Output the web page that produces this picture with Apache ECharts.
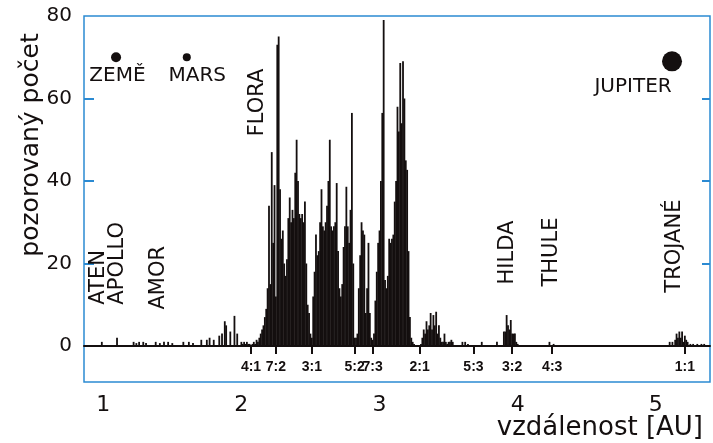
<!DOCTYPE html>
<html>
<head>
<meta charset="utf-8">
<script src="https://cdn.jsdelivr.net/npm/echarts@6/dist/echarts.min.js"></script>
<style>
html,body{margin:0;padding:0;background:#fff;}
#c{width:713px;height:443px;}
</style>
</head>
<body>
<div id="c"></div>
<script>
// ---- data ----
// bin centres (AU) and observed counts
const distAU = [
  0.99, 1.10, 1.22, 1.24, 1.26, 1.29, 1.31, 1.38, 1.41, 1.44, 1.47, 1.50, 1.58, 1.62, 1.65,
  1.71, 1.75, 1.77, 1.80, 1.84, 1.86, 1.88, 1.89, 1.92, 1.95, 1.97,
  2.00, 2.01, 2.02, 2.03, 2.04, 2.05, 2.06, 2.07, 2.08, 2.09,
  2.10, 2.11, 2.12, 2.13, 2.14, 2.15, 2.16, 2.17, 2.18, 2.19,
  2.20, 2.21, 2.22, 2.23, 2.24, 2.25, 2.26, 2.27, 2.28, 2.29,
  2.30, 2.31, 2.32, 2.33, 2.34, 2.35, 2.36, 2.37, 2.38, 2.39,
  2.40, 2.41, 2.42, 2.43, 2.44, 2.45, 2.46, 2.47, 2.48, 2.49,
  2.50, 2.51, 2.52, 2.53, 2.54, 2.55, 2.56, 2.57, 2.58, 2.59,
  2.60, 2.61, 2.62, 2.63, 2.64, 2.65, 2.66, 2.67, 2.68, 2.69,
  2.70, 2.71, 2.72, 2.73, 2.74, 2.75, 2.76, 2.77, 2.78, 2.79,
  2.80, 2.81, 2.82, 2.83, 2.84, 2.85, 2.86, 2.87, 2.88, 2.89,
  2.90, 2.91, 2.92, 2.93, 2.94, 2.95, 2.96, 2.97, 2.98, 2.99,
  3.00, 3.01, 3.02, 3.03, 3.04, 3.05, 3.06, 3.07, 3.08, 3.09,
  3.10, 3.11, 3.12, 3.13, 3.14, 3.15, 3.16, 3.17, 3.18, 3.19,
  3.20, 3.21, 3.22, 3.23, 3.24, 3.25, 3.26, 3.27, 3.28, 3.29,
  3.30, 3.31, 3.32, 3.33, 3.34, 3.35, 3.36, 3.37, 3.38, 3.39,
  3.40, 3.41, 3.42, 3.43, 3.44, 3.45, 3.46, 3.47, 3.48, 3.49,
  3.50, 3.51, 3.52, 3.53,
  3.60, 3.62, 3.64, 3.74, 3.85,
  3.90, 3.91, 3.92, 3.93, 3.94, 3.95, 3.96, 3.97, 3.98, 3.99, 4.00,
  4.23, 4.26,
  5.10, 5.12, 5.14, 5.15, 5.16, 5.17, 5.18, 5.19, 5.20, 5.21, 5.22, 5.23, 5.25, 5.27, 5.30, 5.33, 5.35
];
const counts = [
  1, 2, 1, 0.7, 1, 1, 0.7, 1, 0.7, 1, 1, 0.7, 1, 1, 0.7,
  1.5, 1.5, 2, 1.5, 2.5, 3, 6, 5, 3.5, 7.3, 3,
  1, 0.5, 1, 0.5, 1, 0.5, 0.5, 0, 0.5, 1,
  0.5, 1.5, 1, 2, 3, 4, 5, 7, 9, 14,
  34, 15, 47, 25, 39, 12, 73, 75, 38, 26,
  28, 20, 17, 21, 31, 36, 30, 33, 31, 42,
  50, 40, 32, 31, 32, 30, 35, 20, 10, 8,
  3, 2, 12, 18, 27, 22, 23, 30, 38, 29,
  28, 30, 34, 40, 50, 29, 28, 29, 30, 39.5,
  23, 14, 12, 15, 24, 29, 38.6, 29, 25, 33,
  56.5, 20, 2, 2, 3, 14, 22, 30, 28, 27,
  8, 14, 25, 8, 2, 1.5, 3, 11, 18, 25,
  28, 40, 56.5, 79, 16, 14, 17, 26, 25, 26,
  27, 35, 40, 58, 52, 68.6, 54, 69, 60, 45,
  42.7, 23, 7, 2, 1, 0.5, 0, 0, 0, 0,
  0.5, 2, 4, 3, 6, 4, 5, 8, 4, 7.5,
  5, 8.3, 3, 5, 2, 1, 1, 3, 1, 0.5,
  1, 1, 1.5, 1,
  1, 1, 0.5, 1, 1,
  3.5, 3.5, 7.5, 5, 4, 6.3, 3, 3, 3, 1, 0.5,
  1, 0.5,
  1, 1, 1.5, 3, 2, 3.5, 2, 3.5, 1, 2.5, 1.5, 1, 0.5, 0.5, 0.5, 0.5, 0.5
];

// axis tick labels
const distTicks = [1, 2, 3, 4, 5];
const countTicks = [0, 20, 40, 60, 80];
const countInnerTicks = [20, 40, 60];

// mean-motion resonances with Jupiter
const resonanceLabels = ['4:1', '7:2', '3:1', '5:2', '7:3', '2:1', '5:3', '3:2', '4:3', '1:1'];
const resonanceAU = [2.07, 2.25, 2.51, 2.82, 2.95, 3.29, 3.68, 3.96, 4.25, 5.21];
const resonanceLabelY = -5.1;

// planets
const planetNames = ['ZEMĚ', 'MARS', 'JUPITER'];
const planetAU = [1.093, 1.605, 5.117];
const planetY = [70, 70, 69];
const planetLabelAU = [1.103, 1.681, 4.835];
const planetLabelY = [65.6, 65.6, 62.8];

// asteroid groups (label anchored at its lower end)
const groupNames = ['ATEN', 'APOLLO', 'AMOR', 'FLORA', 'HILDA', 'THULE', 'TROJANÉ'];
const groupAU = [0.973, 1.111, 1.407, 2.122, 3.932, 4.246, 5.142];
const groupY = [9.9, 9.9, 8.7, 50.7, 14.8, 14.3, 12.8];

// ---- chart ----
const BLUE = '#2b8ad2';
const INK = '#140f0f';
const FONT = '"DejaVu Sans", sans-serif';
const X_MIN = 0.861, X_MAX = 5.392, Y_MIN = -8.73, Y_MAX = 80;
const planetSizes = [10, 8, 20];

const chart = echarts.init(document.getElementById('c'));

const textSeries = (name, names, xs, ys, label) => ({
  name: name, type: 'scatter', xAxisIndex: 0, yAxisIndex: 0,
  data: xs.map((a, i) => ({ value: [a, ys[i]], name: names[i] })),
  symbolSize: 1, itemStyle: { color: 'rgba(0,0,0,0)', opacity: 1 },
  label: Object.assign({ show: true, formatter: (p) => p.name, color: INK, fontFamily: FONT, opacity: 1 }, label),
  labelLayout: { hideOverlap: false },
  emphasis: { disabled: true }, silent: true, z: 5
});

chart.setOption({
  animation: false,
  grid: {
    left: 84, right: 3, top: 16, bottom: 61,
    show: true, borderColor: BLUE, borderWidth: 1.5, backgroundColor: 'transparent'
  },
  xAxis: [
    {
      type: 'value', min: X_MIN, max: X_MAX, position: 'bottom',
      axisLine: { show: false }, axisTick: { show: false }, splitLine: { show: false },
      axisLabel: {
        customValues: distTicks, formatter: (v) => String(v),
        fontSize: 22, color: INK, fontFamily: FONT, margin: 12
      }
    },
    {
      type: 'value', min: X_MIN, max: X_MAX, position: 'bottom',
      axisLine: { show: true, onZero: true, onZeroAxisIndex: 0, lineStyle: { color: INK, width: 2 } },
      axisTick: { show: true, customValues: resonanceAU, length: 8, lineStyle: { color: INK, width: 2 } },
      axisLabel: { show: false },
      splitLine: { show: false }
    }
  ],
  yAxis: [
    {
      type: 'value', min: Y_MIN, max: Y_MAX, position: 'left',
      axisLine: { show: false },
      axisTick: { show: true, inside: true, length: 10, customValues: countInnerTicks, lineStyle: { color: BLUE, width: 2 } },
      axisLabel: { customValues: countTicks, fontSize: 20, color: INK, fontFamily: FONT, margin: 12 },
      splitLine: { show: false }
    },
    {
      type: 'value', min: Y_MIN, max: Y_MAX, position: 'right',
      axisLine: { show: false },
      axisTick: { show: true, inside: true, length: 8, customValues: countInnerTicks, lineStyle: { color: BLUE, width: 2 } },
      axisLabel: { show: false },
      splitLine: { show: false }
    }
  ],
  series: [
    {
      name: 'pozorovaný počet', type: 'bar', xAxisIndex: 0, yAxisIndex: 0,
      data: distAU.map((a, i) => [a, counts[i]]),
      barWidth: 1.8, itemStyle: { color: INK }, z: 3, silent: true
    },
    {
      name: 'planety', type: 'scatter', xAxisIndex: 0, yAxisIndex: 0,
      data: planetAU.map((a, i) => [a, planetY[i]]),
      symbol: 'circle', symbolSize: (v, p) => planetSizes[p.dataIndex],
      itemStyle: { color: INK, opacity: 1 }, z: 4, silent: true
    },
    textSeries('planety-popisky', planetNames, planetLabelAU, planetLabelY,
      { position: 'inside', fontSize: 20 }),
    textSeries('skupiny', groupNames, groupAU, groupY,
      { position: [0, 0], rotate: 90, align: 'left', verticalAlign: 'middle', fontSize: 21 }),
    textSeries('rezonance', resonanceLabels, resonanceAU, resonanceAU.map(() => resonanceLabelY),
      { position: 'inside', fontSize: 14, fontWeight: 'bold', fontFamily: '"Liberation Sans", Arial, sans-serif' })
  ],
  graphic: [
    {
      type: 'text', x: 31, y: 145, rotation: Math.PI / 2,
      style: { text: 'pozorovaný počet', x: 0, y: 0, align: 'center', verticalAlign: 'middle',
               font: '25px "DejaVu Sans", sans-serif', fill: INK }
    },
    {
      type: 'text', x: 703, y: 428,
      style: { text: 'vzdálenost [AU]', x: 0, y: 0, align: 'right', verticalAlign: 'middle',
               font: '26px "DejaVu Sans", sans-serif', fill: INK }
    }
  ]
});
</script>
</body>
</html>
